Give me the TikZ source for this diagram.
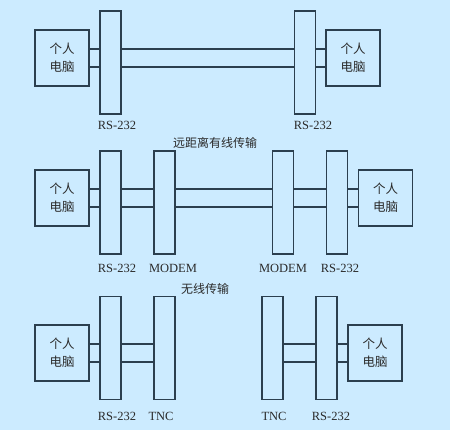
\documentclass[tikz,border=0pt]{standalone}
\usepackage{fontspec}
\setmainfont{Liberation Serif}
\newfontfamily\cjk{Noto Sans CJK SC}
\definecolor{bg}{HTML}{CCEBFF}
\definecolor{ln}{HTML}{2B3F4F}
\definecolor{tx}{HTML}{2A2A2A}
\begin{document}
\begin{tikzpicture}[x=1pt,y=-1pt,
  pcbox/.style={draw=ln, line width=1.2pt, minimum width=54pt, minimum height=56pt, inner sep=0pt,
     align=center, font=\cjk\fontsize{12.5}{18}\selectfont, text=tx},
  bar/.style={draw=ln, line width=1.2pt, minimum width=21pt, minimum height=103pt, inner sep=0pt},
  lab/.style={font=\fontsize{12.5}{14}\selectfont, text=tx, inner sep=0pt},
  ttl/.style={font=\cjk\fontsize{12}{14}\selectfont, text=tx, inner sep=0pt},
  wire/.style={draw=ln, line width=1.2pt}]
\fill[bg] (0,0) rectangle (450,430);
\useasboundingbox (0,0) rectangle (450,430);
% Row 1
\node[pcbox] (pc1) at (62,58) {个人\\电脑};
\node[bar] (a1) at (110.5,62.5) {};
\node[bar] (a2) at (305,62.5) {};
\node[pcbox] (pc2) at (353,58) {个人\\电脑};
\foreach \s in {9pt,-9pt}{
  \draw[wire] ([yshift=\s]pc1.east) -- ([yshift=\s]pc1.east -| a1.west);
  \draw[wire] ([yshift=\s]pc1.east -| a1.east) -- ([yshift=\s]pc1.east -| a2.west);
  \draw[wire] ([yshift=\s]pc2.west -| a2.east) -- ([yshift=\s]pc2.west);
}
\node[lab] (la1) at (117,125) {RS-232};
\node[lab] (la2) at (313,125) {RS-232};
\node[ttl] (t1) at (215,143) {远距离有线传输};
% Row 2
\node[pcbox] (pc3) at (62,198) {个人\\电脑};
\node[bar] (b1) at (110.5,202.5) {};
\node[bar] (b2) at (164.5,202.5) {};
\node[bar] (b3) at (283,202.5) {};
\node[bar] (b4) at (337,202.5) {};
\node[pcbox] (pc4) at (385.5,198) {个人\\电脑};
\foreach \s in {9pt,-9pt}{
  \draw[wire] ([yshift=\s]pc3.east) -- ([yshift=\s]pc3.east -| b1.west);
  \draw[wire] ([yshift=\s]pc3.east -| b1.east) -- ([yshift=\s]pc3.east -| b2.west);
  \draw[wire] ([yshift=\s]pc3.east -| b2.east) -- ([yshift=\s]pc3.east -| b3.west);
  \draw[wire] ([yshift=\s]pc3.east -| b3.east) -- ([yshift=\s]pc3.east -| b4.west);
  \draw[wire] ([yshift=\s]pc4.west -| b4.east) -- ([yshift=\s]pc4.west);
}
\node[lab] (lb1) at (117,268) {RS-232};
\node[lab] (lb2) at (173,268) {MODEM};
\node[lab] (lb3) at (283,268) {MODEM};
\node[lab] (lb4) at (340,268) {RS-232};
\node[ttl] (t2) at (205,289) {无线传输};
% Row 3
\node[pcbox] (pc5) at (62,353) {个人\\电脑};
\node[bar] (c1) at (110.5,348) {};
\node[bar] (c2) at (164.5,348) {};
\node[bar] (c3) at (272.5,348) {};
\node[bar] (c4) at (326.5,348) {};
\node[pcbox] (pc6) at (375,353) {个人\\电脑};
\foreach \s in {9pt,-9pt}{
  \draw[wire] ([yshift=\s]pc5.east) -- ([yshift=\s]pc5.east -| c1.west);
  \draw[wire] ([yshift=\s]pc5.east -| c1.east) -- ([yshift=\s]pc5.east -| c2.west);
  \draw[wire] ([yshift=\s]pc6.west -| c3.east) -- ([yshift=\s]pc6.west -| c4.west);
  \draw[wire] ([yshift=\s]pc6.west -| c4.east) -- ([yshift=\s]pc6.west);
}
\node[lab] (lc1) at (117,416) {RS-232};
\node[lab] (lc2) at (161,416) {TNC};
\node[lab] (lc3) at (274,416) {TNC};
\node[lab] (lc4) at (331,416) {RS-232};
\end{tikzpicture}
\end{document}
